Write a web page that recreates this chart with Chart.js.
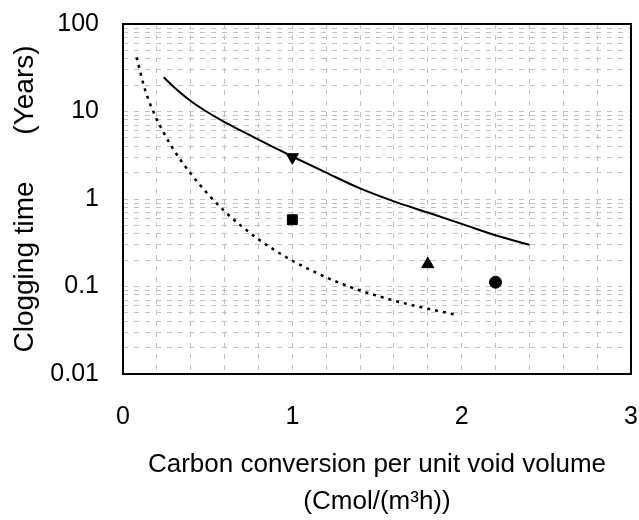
<!DOCTYPE html>
<html>
<head>
<meta charset="utf-8">
<script src="https://cdn.jsdelivr.net/npm/chart.js@4.4.1/dist/chart.umd.min.js"></script>
<style>
  html, body { margin: 0; padding: 0; background: #fff; }
</style>
</head>
<body>
<canvas id="cloggingChart" width="639" height="520"></canvas>
<script>
// Solid model curve
const solidX = [0.24, 0.30, 0.40, 0.50, 0.60, 0.70, 0.80, 0.90, 1.0, 1.2, 1.4, 1.6, 1.8, 2.0, 2.2, 2.4];
const solidY = [24.6, 19.1, 13.2, 9.8, 7.55, 6.0, 4.78, 3.82, 3.06, 2.0, 1.32, 0.94, 0.70, 0.52, 0.385, 0.30];

// Dotted model curve
const dottedX = [0.08, 0.13, 0.19, 0.24, 0.30, 0.40, 0.50, 0.60, 0.70, 0.80, 0.90, 1.0, 1.1, 1.2, 1.3, 1.4, 1.5, 1.6, 1.7, 1.8, 1.9, 1.97];
const dottedY = [41.7, 17.8, 8.9, 5.75, 3.63, 1.95, 1.15, 0.724, 0.49, 0.347, 0.257, 0.197, 0.157, 0.127, 0.106, 0.090, 0.0785, 0.069, 0.0617, 0.0556, 0.0507, 0.0473];

// Measured points
const pointX = [1.0, 1.0, 1.8, 2.2];
const pointY = [3.0, 0.58, 0.18, 0.112];
const pointStyles = ['triangle', 'rect', 'triangle', 'circle'];
const pointRotations = [180, 0, 0, 0];
const pointRadii = [7, 7, 7, 6];

// Axis ticks
const yDecades = [0.01, 0.1, 1, 10];
const yMinorSteps = [1, 2, 3, 4, 5, 6, 7, 8, 9];
const yLabelTicks = [0.01, 0.1, 1, 10, 100];
const xLabelTicks = [0, 1, 2, 3];

const yGridTicks = [];
yDecades.forEach(d => yMinorSteps.forEach(m => yGridTicks.push(+(d * m).toPrecision(3))));
yGridTicks.push(100);

const fontFamily = '"Liberation Sans", Arial, sans-serif';
const gridColor = '#c2c2c2';

// Black frame round the plot area
const frameBorder = {
    id: 'frameBorder',
    beforeDatasetsDraw(chart) {
        const { ctx, chartArea } = chart;
        ctx.save();
        ctx.strokeStyle = '#000';
        ctx.lineWidth = 2;
        ctx.strokeRect(chartArea.left, chartArea.top, chartArea.right - chartArea.left, chartArea.bottom - chartArea.top);
        ctx.restore();
    }
};

const markerSets = pointX.map((x, i) => ({
    data: [{ x: x, y: pointY[i] }],
    showLine: false,
    pointStyle: pointStyles[i],
    rotation: pointRotations[i],
    pointRadius: pointRadii[i],
    pointBackgroundColor: '#000',
    pointBorderColor: '#000',
    pointBorderWidth: 1
}));

const ctx = document.getElementById('cloggingChart').getContext('2d');
new Chart(ctx, {
    type: 'scatter',
    data: {
        datasets: [
            {
                data: solidX.map((x, i) => ({ x: x, y: solidY[i] })),
                showLine: true,
                borderColor: '#000',
                borderWidth: 2,
                pointRadius: 0,
                cubicInterpolationMode: 'monotone'
            },
            {
                data: dottedX.map((x, i) => ({ x: x, y: dottedY[i] })),
                showLine: true,
                borderColor: '#000',
                borderWidth: 2.5,
                borderDash: [3, 5],
                pointRadius: 0,
                cubicInterpolationMode: 'monotone'
            },
            ...markerSets
        ]
    },
    options: {
        responsive: false,
        animation: false,
        layout: { padding: { top: 24, right: 7, left: 0, bottom: 0 } },
        plugins: {
            legend: { display: false },
            tooltip: { enabled: false }
        },
        scales: {
            x: {
                type: 'linear',
                min: 0,
                max: 3,
                afterFit: axis => {
                    axis.paddingLeft = 0;
                    axis.paddingRight = 0;
                    axis.height = 146;
                },
                ticks: {
                    stepSize: 0.2,
                    padding: 28,
                    color: '#000',
                    font: { family: fontFamily, size: 25 },
                    maxRotation: 0,
                    autoSkip: false,
                    callback: v => xLabelTicks.some(t => Math.abs(t - v) < 1e-6) ? String(Math.round(v)) : ''
                },
                grid: { color: gridColor, lineWidth: 1, drawTicks: false },
                border: { display: false, dash: [5, 6] },
                title: {
                    display: true,
                    text: ['Carbon conversion per unit void volume', '(Cmol/(m\u00b3h))'],
                    color: '#000',
                    font: { family: fontFamily, size: 26, lineHeight: 1.42 },
                    padding: { top: 10, bottom: 0 }
                }
            },
            y: {
                type: 'logarithmic',
                min: 0.01,
                max: 100,
                afterBuildTicks: axis => {
                    axis.ticks = yGridTicks.map(v => ({ value: v }));
                },
                afterFit: axis => {
                    axis.paddingTop = 0;
                    axis.paddingBottom = 0;
                    axis.width = 123;
                },
                ticks: {
                    padding: 24,
                    color: '#000',
                    font: { family: fontFamily, size: 25 },
                    autoSkip: false,
                    callback: v => yLabelTicks.some(t => Math.abs(t - v) < t * 1e-6) ? String(v) : ''
                },
                grid: { color: gridColor, lineWidth: 1, drawTicks: false },
                border: { display: false, dash: [5, 6] },
                title: {
                    display: true,
                    text: 'Clogging time      (Years)',
                    color: '#000',
                    font: { family: fontFamily, size: 28, lineHeight: 1.2 },
                    padding: { top: 8, bottom: 0 }
                }
            }
        }
    },
    plugins: [frameBorder]
});
</script>
</body>
</html>
